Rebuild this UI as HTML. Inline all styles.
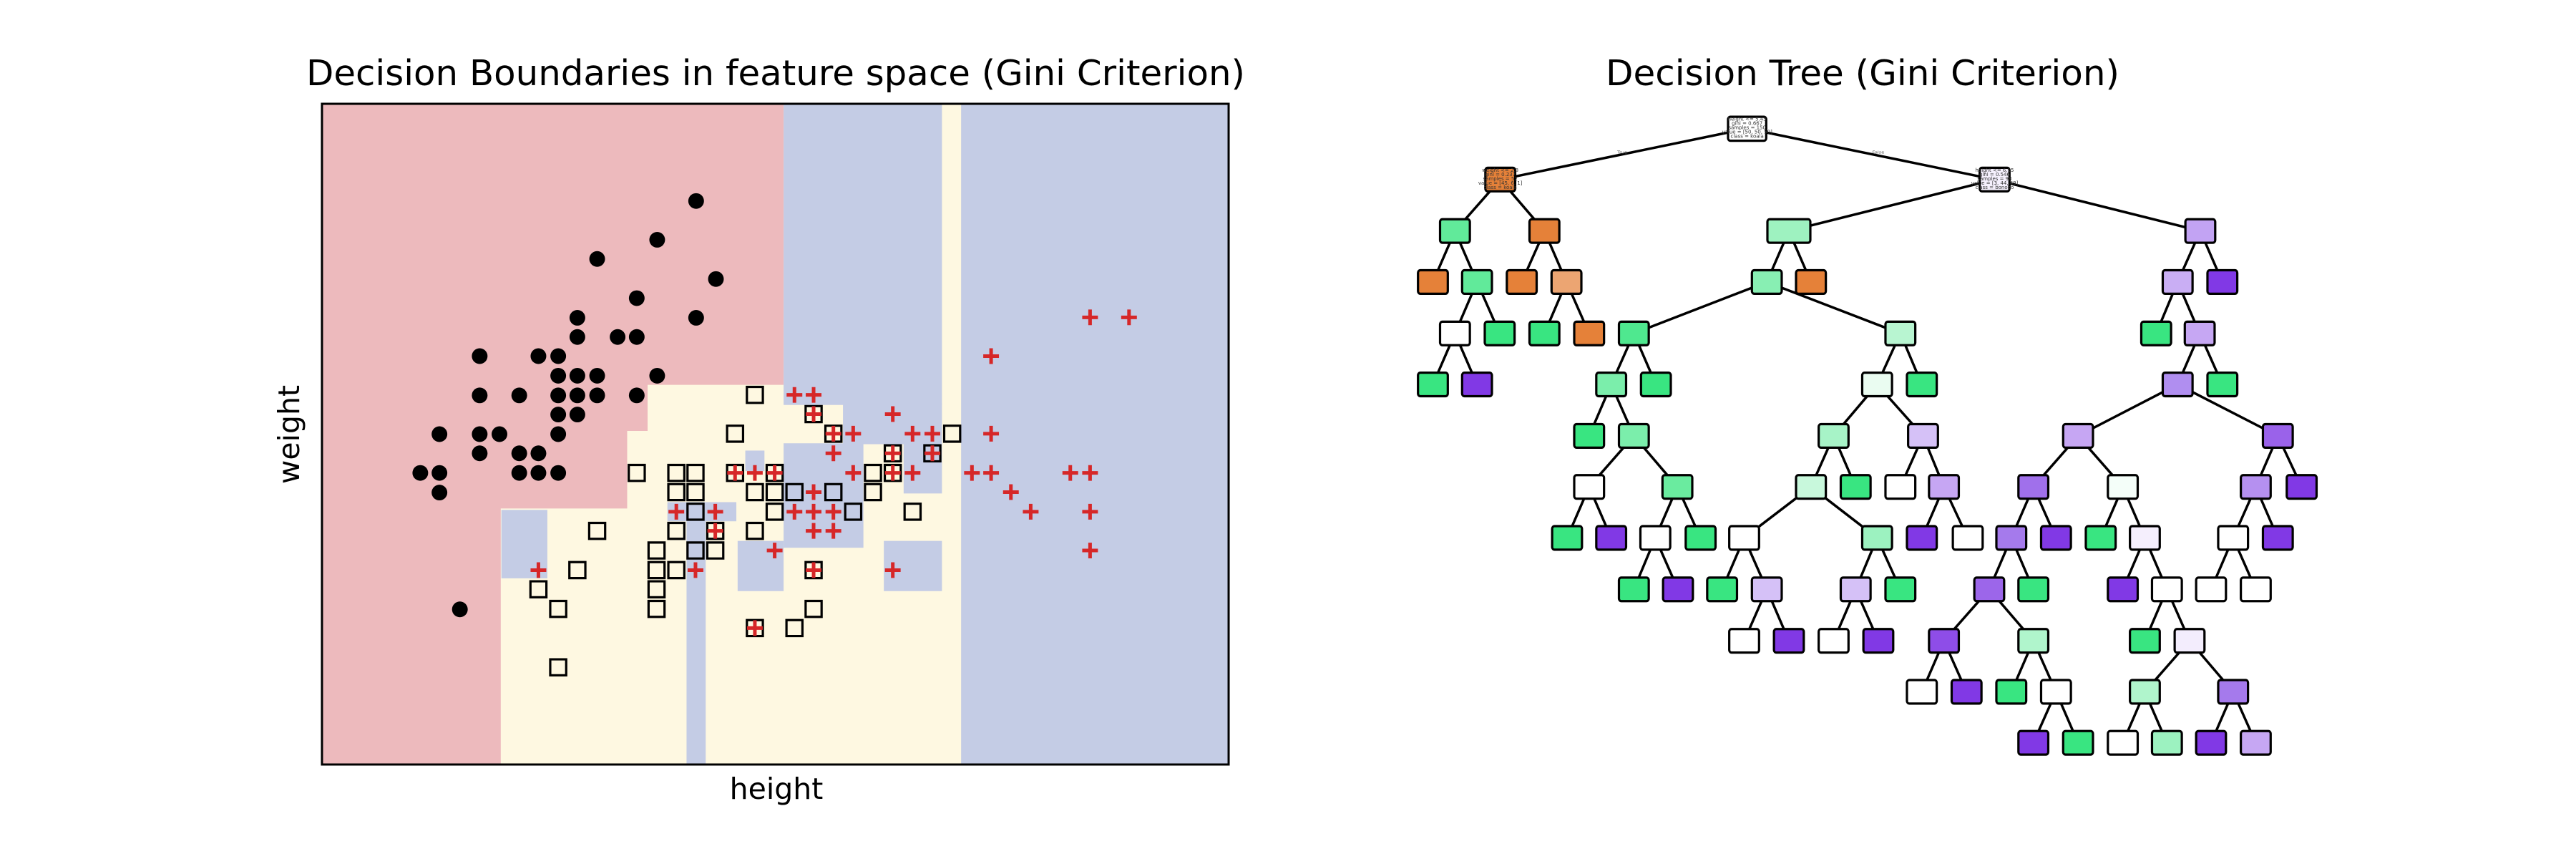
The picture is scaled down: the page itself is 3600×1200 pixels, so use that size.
<!DOCTYPE html>
<html><head><meta charset="utf-8"><style>html,body{margin:0;padding:0;background:#fff}svg{display:block}</style></head>
<body>
<svg width="3600" height="1200" viewBox="0 0 3600 1200" xmlns="http://www.w3.org/2000/svg" font-family="DejaVu Sans, Liberation Sans, sans-serif">
<rect width="3600" height="1200" fill="#fff"/>
<text x="1084" y="119" font-size="49" text-anchor="middle" textLength="1312" lengthAdjust="spacingAndGlyphs">Decision Boundaries in feature space (Gini Criterion)</text>
<text x="2603" y="119" font-size="49" text-anchor="middle" textLength="718" lengthAdjust="spacingAndGlyphs">Decision Tree (Gini Criterion)</text>
<text x="1085" y="1116" font-size="41" text-anchor="middle">height</text>
<text transform="translate(418,607) rotate(-90)" font-size="41" text-anchor="middle">weight</text>

<defs>
<ellipse id="c" rx="12.3" ry="17.2" fill="#000"/>
<rect id="s" x="-12.5" y="-17.5" width="25" height="35" fill="none" stroke="#000" stroke-width="3.2" vector-effect="non-scaling-stroke"/>
<path id="p" d="M-12.3 0H12.3M0 -17.2V17.2" stroke="#d62728" stroke-width="5" vector-effect="non-scaling-stroke"/>
<rect id="n" x="-25" y="-27" width="50" height="54" rx="4" ry="6" vector-effect="non-scaling-stroke"/>
</defs>

<g transform="translate(399.1,100.4) scale(0.8923,0.6374)">
<rect x="57" y="70" width="1420" height="1448" fill="#fef8e1"/>
<path d="M57 70H780V686H567V787H535V957H337V1518H57Z" fill="#edbabd"/>
<g fill="#c4cce5">
<rect x="780" y="70" width="248" height="660"/>
<rect x="873" y="726" width="155" height="90"/>
<rect x="968" y="814" width="60" height="110"/>
<rect x="780" y="814" width="125" height="229"/>
<rect x="720" y="830" width="30" height="45"/>
<rect x="628" y="943" width="30" height="575"/>
<rect x="598" y="943" width="108" height="42"/>
<rect x="708" y="1028" width="72" height="110"/>
<rect x="937" y="1028" width="91" height="110"/>
<rect x="338" y="960" width="72" height="150"/>
<rect x="1058" y="70" width="419" height="1448"/>
</g>
<rect x="57" y="70" width="1420" height="1448" fill="none" stroke="#000" stroke-width="3" vector-effect="non-scaling-stroke"/>

<g>
<use href="#c" x="643" y="283"/><use href="#c" x="582" y="368"/><use href="#c" x="488" y="410"/><use href="#c" x="674" y="454"/><use href="#c" x="550" y="496"/><use href="#c" x="457" y="539"/><use href="#c" x="643" y="539"/><use href="#c" x="457" y="581"/><use href="#c" x="520" y="581"/><use href="#c" x="550" y="581"/><use href="#c" x="304" y="623"/><use href="#c" x="396" y="623"/><use href="#c" x="427" y="623"/><use href="#c" x="427" y="666"/><use href="#c" x="457" y="666"/><use href="#c" x="488" y="666"/><use href="#c" x="582" y="666"/><use href="#c" x="304" y="709"/><use href="#c" x="366" y="709"/><use href="#c" x="427" y="709"/><use href="#c" x="457" y="709"/><use href="#c" x="488" y="709"/><use href="#c" x="550" y="709"/><use href="#c" x="427" y="751"/><use href="#c" x="457" y="751"/><use href="#c" x="241" y="794"/><use href="#c" x="304" y="794"/><use href="#c" x="335" y="794"/><use href="#c" x="427" y="794"/><use href="#c" x="304" y="836"/><use href="#c" x="366" y="836"/><use href="#c" x="396" y="836"/><use href="#c" x="211" y="879"/><use href="#c" x="241" y="879"/><use href="#c" x="366" y="879"/><use href="#c" x="396" y="879"/><use href="#c" x="427" y="879"/><use href="#c" x="241" y="922"/><use href="#c" x="273" y="1178"/>
</g>
<g>
<use href="#s" x="735" y="708"/><use href="#s" x="827" y="750"/><use href="#s" x="704" y="793"/><use href="#s" x="858" y="793"/><use href="#s" x="1044" y="793"/><use href="#s" x="951" y="836"/><use href="#s" x="1013" y="836"/><use href="#s" x="550" y="879"/><use href="#s" x="612" y="879"/><use href="#s" x="642" y="879"/><use href="#s" x="704" y="879"/><use href="#s" x="766" y="879"/><use href="#s" x="920" y="879"/><use href="#s" x="951" y="879"/><use href="#s" x="612" y="921"/><use href="#s" x="642" y="921"/><use href="#s" x="735" y="921"/><use href="#s" x="766" y="921"/><use href="#s" x="797" y="921"/><use href="#s" x="858" y="921"/><use href="#s" x="920" y="921"/><use href="#s" x="642" y="964"/><use href="#s" x="766" y="964"/><use href="#s" x="889" y="964"/><use href="#s" x="982" y="964"/><use href="#s" x="488" y="1006"/><use href="#s" x="612" y="1006"/><use href="#s" x="673" y="1006"/><use href="#s" x="735" y="1006"/><use href="#s" x="581" y="1049"/><use href="#s" x="642" y="1049"/><use href="#s" x="673" y="1049"/><use href="#s" x="457" y="1092"/><use href="#s" x="581" y="1092"/><use href="#s" x="612" y="1092"/><use href="#s" x="827" y="1092"/><use href="#s" x="396" y="1134"/><use href="#s" x="581" y="1134"/><use href="#s" x="427" y="1177"/><use href="#s" x="581" y="1177"/><use href="#s" x="827" y="1177"/><use href="#s" x="735" y="1219"/><use href="#s" x="797" y="1219"/><use href="#s" x="427" y="1305"/>
</g>
<g>
<use href="#p" x="1260" y="538"/><use href="#p" x="1321" y="538"/><use href="#p" x="1105" y="623"/><use href="#p" x="797" y="708"/><use href="#p" x="827" y="708"/><use href="#p" x="827" y="750"/><use href="#p" x="951" y="750"/><use href="#p" x="858" y="793"/><use href="#p" x="889" y="793"/><use href="#p" x="982" y="793"/><use href="#p" x="1013" y="793"/><use href="#p" x="1105" y="793"/><use href="#p" x="858" y="836"/><use href="#p" x="951" y="836"/><use href="#p" x="1013" y="836"/><use href="#p" x="704" y="879"/><use href="#p" x="735" y="879"/><use href="#p" x="766" y="879"/><use href="#p" x="889" y="879"/><use href="#p" x="951" y="879"/><use href="#p" x="982" y="879"/><use href="#p" x="1075" y="879"/><use href="#p" x="1105" y="879"/><use href="#p" x="1229" y="879"/><use href="#p" x="1260" y="879"/><use href="#p" x="827" y="921"/><use href="#p" x="1136" y="921"/><use href="#p" x="612" y="964"/><use href="#p" x="673" y="964"/><use href="#p" x="797" y="964"/><use href="#p" x="827" y="964"/><use href="#p" x="858" y="964"/><use href="#p" x="1167" y="964"/><use href="#p" x="1260" y="964"/><use href="#p" x="673" y="1006"/><use href="#p" x="827" y="1006"/><use href="#p" x="858" y="1006"/><use href="#p" x="766" y="1049"/><use href="#p" x="1260" y="1049"/><use href="#p" x="396" y="1092"/><use href="#p" x="642" y="1092"/><use href="#p" x="827" y="1092"/><use href="#p" x="951" y="1092"/><use href="#p" x="735" y="1219"/>
</g>
</g>

<g transform="translate(1950,140) scale(0.8333,0.609)">
<path fill="none" stroke="#000" stroke-width="3.5" vector-effect="non-scaling-stroke" d="
M590 65L176 182M590 65L1005 182
M176 182L100 300M176 182L250 300
M100 300L63 417M100 300L137 417
M250 300L212 417M250 300L287 417
M137 417L100 535M137 417L175 535
M287 417L250 535M287 417L325 535
M100 535L63 652M100 535L137 652
M1005 182L660 300M1005 182L1350 300
M660 300L623 417M660 300L697 417
M623 417L400 535M623 417L847 535
M400 535L362 652M400 535L437 652
M362 652L325 770M362 652L400 770
M400 770L325 887M400 770L473 887
M325 887L288 1004M325 887L362 1004
M473 887L436 1004M473 887L512 1004
M436 1004L400 1122M436 1004L474 1122
M847 535L808 652M847 535L883 652
M808 652L735 770M808 652L885 770
M735 770L697 887M735 770L772 887
M697 887L585 1004M697 887L808 1004
M585 1004L548 1122M585 1004L623 1122
M623 1122L585 1240M623 1122L660 1240
M808 1004L772 1122M808 1004L847 1122
M772 1122L735 1240M772 1122L810 1240
M885 770L847 887M885 770L920 887
M920 887L883 1004M920 887L960 1004
M1350 300L1312 417M1350 300L1387 417
M1312 417L1276 535M1312 417L1349 535
M1349 535L1312 652M1349 535L1387 652
M1312 652L1145 770M1312 652L1480 770
M1145 770L1070 887M1145 770L1220 887
M1070 887L1033 1004M1070 887L1108 1004
M1033 1004L996 1122M1033 1004L1070 1122
M996 1122L920 1240M996 1122L1070 1240
M920 1240L883 1357M920 1240L958 1357
M1070 1240L1033 1357M1070 1240L1108 1357
M1108 1357L1070 1474M1108 1357L1145 1474
M1220 887L1183 1004M1220 887L1257 1004
M1257 1004L1220 1122M1257 1004L1294 1122
M1294 1122L1257 1240M1294 1122L1332 1240
M1332 1240L1257 1357M1332 1240L1405 1357
M1257 1357L1220 1474M1257 1357L1294 1474
M1405 1357L1368 1474M1405 1357L1443 1474
M1480 770L1443 887M1480 770L1520 887
M1443 887L1405 1004M1443 887L1480 1004
M1405 1004L1368 1122M1405 1004L1443 1122"/>
<text x="372" y="122" font-size="8" fill="#555">True</text>
<text x="800" y="122" font-size="8" fill="#555">False</text>
<g stroke="#000" stroke-width="3.2">
<rect x="558" y="38" width="64" height="55" rx="4" ry="6" fill="#fff" vector-effect="non-scaling-stroke"/>
<use href="#n" x="176" y="182" fill="#e58139"/>
<use href="#n" x="1005" y="182" fill="#f5f0fd"/>
<use href="#n" x="100" y="300" fill="#61ea9a"/>
<use href="#n" x="250" y="300" fill="#e58139"/>
<rect x="624" y="273" width="72" height="54" rx="4" ry="6" fill="#9ef2c0" vector-effect="non-scaling-stroke"/>
<use href="#n" x="1350" y="300" fill="#c2a3f3"/>
<use href="#n" x="63" y="417" fill="#e58139"/>
<use href="#n" x="137" y="417" fill="#61ea9a"/>
<use href="#n" x="212" y="417" fill="#e58139"/>
<use href="#n" x="287" y="417" fill="#eca572"/>
<use href="#n" x="623" y="417" fill="#88efb3"/>
<use href="#n" x="697" y="417" fill="#e58139"/>
<use href="#n" x="1312" y="417" fill="#c9aef4"/>
<use href="#n" x="1387" y="417" fill="#8139e5"/>
<use href="#n" x="100" y="535" fill="#ffffff"/>
<use href="#n" x="175" y="535" fill="#39e581"/>
<use href="#n" x="250" y="535" fill="#39e581"/>
<use href="#n" x="325" y="535" fill="#e58139"/>
<use href="#n" x="400" y="535" fill="#4fe88f"/>
<use href="#n" x="847" y="535" fill="#b8f5d1"/>
<use href="#n" x="1276" y="535" fill="#39e581"/>
<use href="#n" x="1349" y="535" fill="#c6a7f3"/>
<use href="#n" x="63" y="652" fill="#39e581"/>
<use href="#n" x="137" y="652" fill="#8139e5"/>
<use href="#n" x="362" y="652" fill="#7beeab"/>
<use href="#n" x="437" y="652" fill="#39e581"/>
<use href="#n" x="808" y="652" fill="#eafcf1"/>
<use href="#n" x="883" y="652" fill="#39e581"/>
<use href="#n" x="1312" y="652" fill="#b08ef0"/>
<use href="#n" x="1387" y="652" fill="#39e581"/>
<use href="#n" x="325" y="770" fill="#39e581"/>
<use href="#n" x="400" y="770" fill="#7beeab"/>
<use href="#n" x="735" y="770" fill="#a7f3c7"/>
<use href="#n" x="885" y="770" fill="#d5c1f7"/>
<use href="#n" x="1145" y="770" fill="#c6a6f3"/>
<use href="#n" x="1480" y="770" fill="#9a62ea"/>
<use href="#n" x="325" y="887" fill="#ffffff"/>
<use href="#n" x="473" y="887" fill="#6aeb9f"/>
<use href="#n" x="697" y="887" fill="#c8f8dc"/>
<use href="#n" x="772" y="887" fill="#39e581"/>
<use href="#n" x="847" y="887" fill="#ffffff"/>
<use href="#n" x="920" y="887" fill="#c6a6f3"/>
<use href="#n" x="1070" y="887" fill="#a070eb"/>
<use href="#n" x="1220" y="887" fill="#f4fef9"/>
<use href="#n" x="1443" y="887" fill="#b590f0"/>
<use href="#n" x="1520" y="887" fill="#8139e5"/>
<use href="#n" x="288" y="1004" fill="#39e581"/>
<use href="#n" x="362" y="1004" fill="#8139e5"/>
<use href="#n" x="436" y="1004" fill="#ffffff"/>
<use href="#n" x="512" y="1004" fill="#39e581"/>
<use href="#n" x="585" y="1004" fill="#ffffff"/>
<use href="#n" x="808" y="1004" fill="#9cf2c0"/>
<use href="#n" x="883" y="1004" fill="#8139e5"/>
<use href="#n" x="960" y="1004" fill="#ffffff"/>
<use href="#n" x="1033" y="1004" fill="#a57aec"/>
<use href="#n" x="1108" y="1004" fill="#8139e5"/>
<use href="#n" x="1183" y="1004" fill="#39e581"/>
<use href="#n" x="1257" y="1004" fill="#f5effd"/>
<use href="#n" x="1405" y="1004" fill="#ffffff"/>
<use href="#n" x="1480" y="1004" fill="#8139e5"/>
<use href="#n" x="400" y="1122" fill="#39e581"/>
<use href="#n" x="474" y="1122" fill="#8139e5"/>
<use href="#n" x="548" y="1122" fill="#39e581"/>
<use href="#n" x="623" y="1122" fill="#d5c1f7"/>
<use href="#n" x="772" y="1122" fill="#d5c1f7"/>
<use href="#n" x="847" y="1122" fill="#39e581"/>
<use href="#n" x="996" y="1122" fill="#9c66ea"/>
<use href="#n" x="1070" y="1122" fill="#39e581"/>
<use href="#n" x="1220" y="1122" fill="#8139e5"/>
<use href="#n" x="1294" y="1122" fill="#ffffff"/>
<use href="#n" x="1368" y="1122" fill="#ffffff"/>
<use href="#n" x="1443" y="1122" fill="#ffffff"/>
<use href="#n" x="585" y="1240" fill="#ffffff"/>
<use href="#n" x="660" y="1240" fill="#8139e5"/>
<use href="#n" x="735" y="1240" fill="#ffffff"/>
<use href="#n" x="810" y="1240" fill="#8139e5"/>
<use href="#n" x="920" y="1240" fill="#8e4de8"/>
<use href="#n" x="1070" y="1240" fill="#b0f5cc"/>
<use href="#n" x="1257" y="1240" fill="#39e581"/>
<use href="#n" x="1332" y="1240" fill="#f3edfd"/>
<use href="#n" x="883" y="1357" fill="#ffffff"/>
<use href="#n" x="958" y="1357" fill="#8139e5"/>
<use href="#n" x="1033" y="1357" fill="#39e581"/>
<use href="#n" x="1108" y="1357" fill="#ffffff"/>
<use href="#n" x="1257" y="1357" fill="#b0f5cc"/>
<use href="#n" x="1405" y="1357" fill="#a57aec"/>
<use href="#n" x="1070" y="1474" fill="#8139e5"/>
<use href="#n" x="1145" y="1474" fill="#39e581"/>
<use href="#n" x="1220" y="1474" fill="#ffffff"/>
<use href="#n" x="1294" y="1474" fill="#9cf2c0"/>
<use href="#n" x="1368" y="1474" fill="#8139e5"/>
<use href="#n" x="1443" y="1474" fill="#c6a7f3"/>
</g>
<g font-size="7" text-anchor="middle" fill="#333">
<g transform="translate(590,65) scale(1.2,1.642)"><text y="-11">height &lt;= 5.45</text><text y="-5">gini = 0.667</text><text y="1">samples = 150</text><text y="7">value = [50, 50, 50]</text><text y="13">class = koala</text></g>
<g transform="translate(1005,182) scale(1.2,1.642)"><text y="-11">height &lt;= 6.15</text><text y="-5">gini = 0.546</text><text y="1">samples = 98</text><text y="7">value = [3, 44, 49]</text><text y="13">class = bonobo</text></g>
<g transform="translate(176,182) scale(1.2,1.642)"><text y="-11">weight &lt;= 2.8</text><text y="-5">gini = 0.237</text><text y="1">samples = 52</text><text y="7">value = [45, 6, 1]</text><text y="13">class = koala</text></g>
</g>
</g>
</svg>
</body></html>
